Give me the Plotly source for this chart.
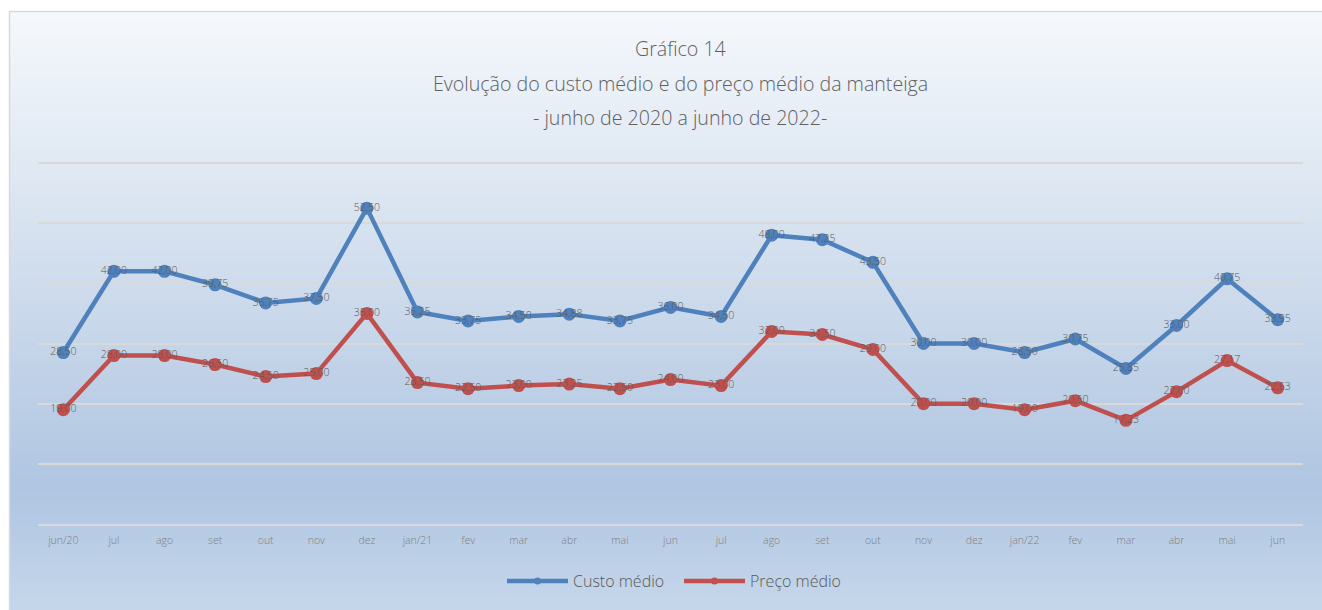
import plotly.graph_objects as go

# ---- data ----
months = ["jun/20", "jul", "ago", "set", "out", "nov", "dez", "jan/21", "fev", "mar",
          "abr", "mai", "jun", "jul", "ago", "set", "out", "nov", "dez", "jan/22",
          "fev", "mar", "abr", "mai", "jun"]
custo_medio = [28.50, 42.00, 42.00, 39.75, 36.75, 37.50, 52.50, 35.25, 33.75, 34.50,
               34.88, 33.75, 36.00, 34.50, 48.00, 47.25, 43.50, 30.00, 30.00, 28.50,
               30.75, 25.85, 33.00, 40.75, 33.95]
preco_medio = [19.00, 28.00, 28.00, 26.50, 24.50, 25.00, 35.00, 23.50, 22.50, 23.00,
               23.25, 22.50, 24.00, 23.00, 32.00, 31.50, 29.00, 20.00, 20.00, 19.00,
               20.50, 17.23, 22.00, 27.17, 22.63]
series_names = ["Custo médio", "Preço médio"]
title_lines = ["Gráfico 14",
               "Evolução do custo médio e do preço médio da manteiga",
               "- junho de 2020 a junho de 2022-"]

BLUE = "#4F81BD"
RED = "#C0504D"
LABEL = "#595959"

Y_MAX = 60.5
W_PX, H_PX = 1322, 610
L, R, T, B = 38, 19, 160, 86
PW = W_PX - L - R
PH = H_PX - T - B


def xp(px):
    return (px - L) / PW


def yp(py):
    return (H_PX - B - py) / PH


def fmt(v):
    return f"{v:.2f}".replace(".", ",")


x_idx = list(range(len(months)))

fig = go.Figure()
for name, vals, col in [(series_names[0], custo_medio, BLUE), (series_names[1], preco_medio, RED)]:
    fig.add_trace(go.Scatter(
        x=x_idx, y=vals, mode="lines+markers+text", name=name, showlegend=False,
        line=dict(color=col, width=4.5),
        marker=dict(color=col, size=13),
        text=[fmt(v) for v in vals], textposition="middle center",
        textfont=dict(family="Open Sans", size=10.5, color=LABEL, weight=300),
        cliponaxis=False, hoverinfo="skip",
    ))
    # legend entry (smaller marker, like the reference legend)
    fig.add_trace(go.Scatter(
        x=[None], y=[None], mode="lines+markers", name=name,
        line=dict(color=col, width=4.5), marker=dict(color=col, size=7),
    ))

# ---- background gradient (chart area) ----
def lerp(c1, c2, t):
    return tuple(round(a + (b - a) * t) for a, b in zip(c1, c2))

stops = [(11, (245, 248, 252)), (200, (219, 229, 241)), (490, (175, 197, 225)), (612, (198, 215, 235))]
shapes = []
y = 11
step = 5
while y < 612:
    y2 = min(y + step, 612)
    ym = (y + y2) / 2
    for (a, ca), (b, cb) in zip(stops[:-1], stops[1:]):
        if a <= ym <= b:
            c = lerp(ca, cb, (ym - a) / (b - a))
            break
    shapes.append(dict(type="rect", xref="paper", yref="paper", layer="below",
                       x0=xp(9), x1=xp(1330), y0=yp(y2 + 0.5), y1=yp(y),
                       fillcolor="rgb(%d,%d,%d)" % c, line=dict(width=0)))
    y = y2
shapes.append(dict(type="rect", xref="paper", yref="paper", layer="below",
                   x0=xp(9.5), x1=xp(1340), y0=yp(640), y1=yp(11.5),
                   fillcolor="rgba(0,0,0,0)", line=dict(color="#d9d9d9", width=1.5)))

annotations = []
for i, line in enumerate(title_lines):
    annotations.append(dict(text=line, xref="paper", yref="paper", x=xp(680), y=yp(49 + 34 * i),
                            xanchor="center", yanchor="middle", showarrow=False,
                            font=dict(family="Open Sans", size=19.6, color="#606060", weight=300)))

fig.update_layout(
    width=W_PX, height=H_PX,
    margin=dict(l=L, r=R, t=T, b=B, pad=0),
    paper_bgcolor="white", plot_bgcolor="rgba(0,0,0,0)",
    shapes=shapes, annotations=annotations,
    font=dict(family="Open Sans", color="#7f7f7f"),
    showlegend=True,
    legend=dict(orientation="h", x=xp(502), xanchor="left", y=yp(581), yanchor="middle",
                font=dict(family="Open Sans", size=16, color="#595959", weight=300),
                bgcolor="rgba(0,0,0,0)", itemwidth=61, entrywidth=101,
                entrywidthmode="pixels", tracegroupgap=0),
    xaxis=dict(range=[-0.5, len(months) - 0.5], tickmode="array", tickvals=x_idx, ticktext=months,
               showgrid=False, zeroline=False, showline=True, linecolor="#d9d9d9", linewidth=2,
               ticks="outside", ticklen=5, tickcolor="rgba(0,0,0,0)",
               tickfont=dict(family="Open Sans", size=10.5, color="#7f7f7f", weight=300),
               fixedrange=True),
    yaxis=dict(range=[0, Y_MAX], tickmode="array", tickvals=[0, 10, 20, 30, 40, 50, 60],
               showticklabels=False, showgrid=True,
               gridcolor="#d9d9d9", gridwidth=2, zeroline=False, showline=False, fixedrange=True),
)

fig.write_html("out.html", config={"displayModeBar": False},
               post_script="document.body.style.margin='0';document.body.style.overflow='hidden';")
